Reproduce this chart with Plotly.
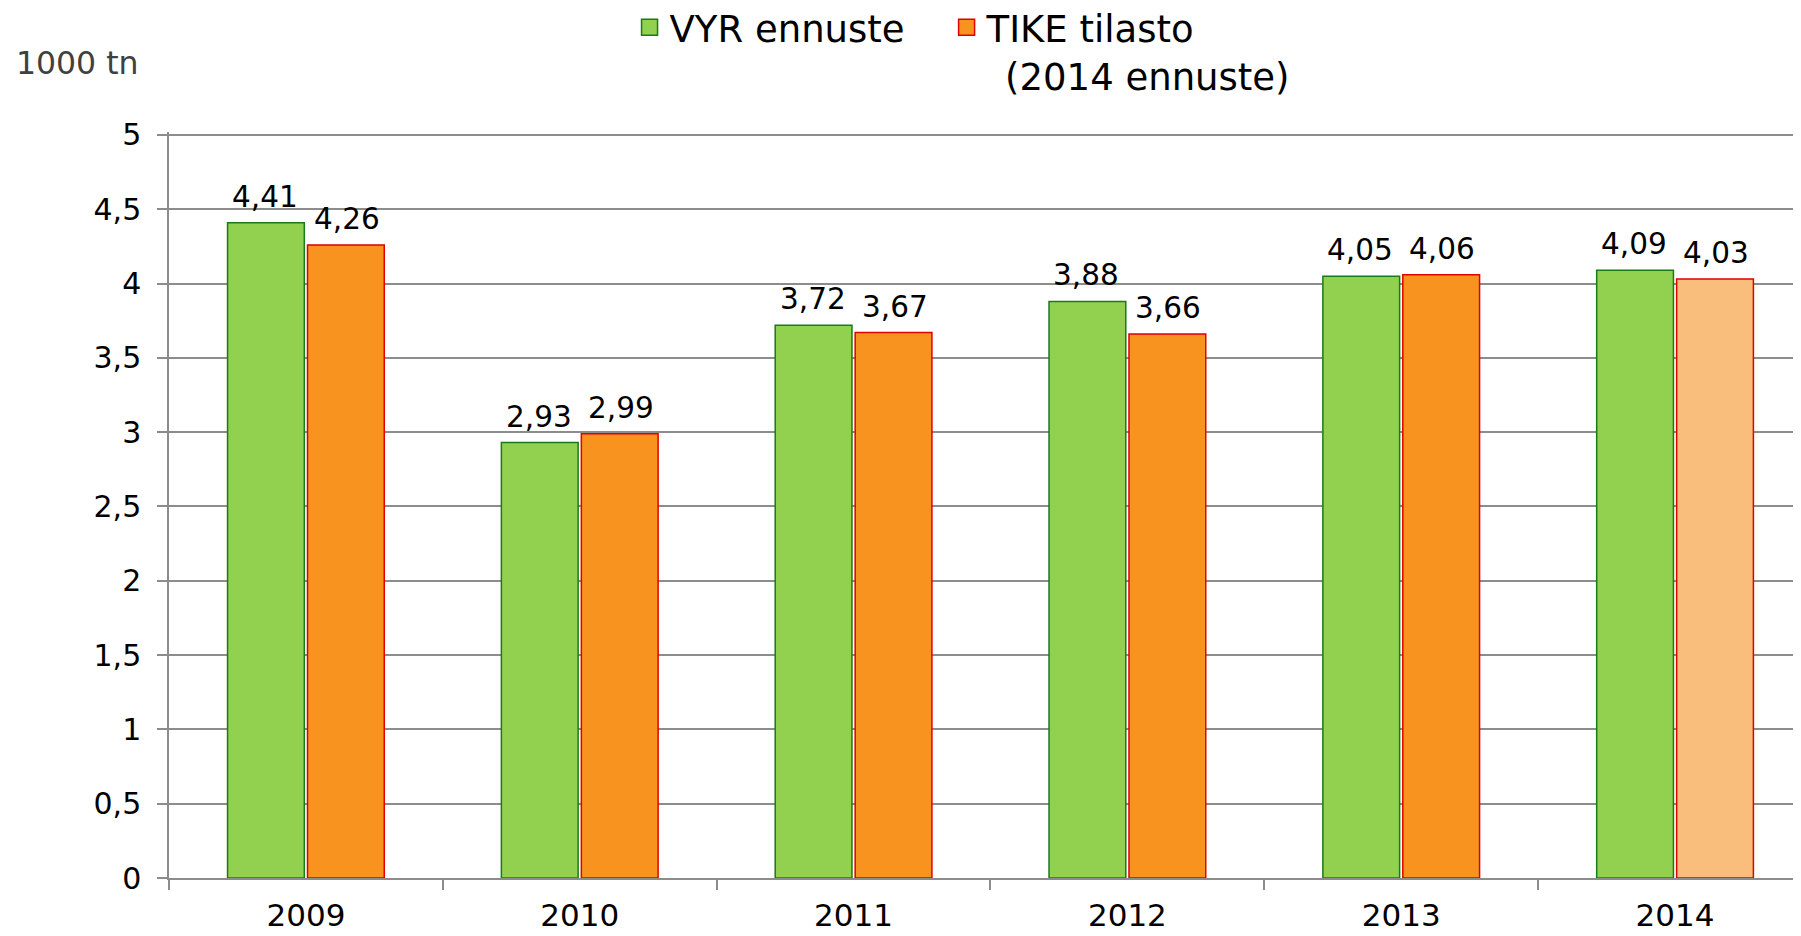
import plotly.graph_objects as go

years = ["2009", "2010", "2011", "2012", "2013", "2014"]
vyr = [4.41, 2.93, 3.72, 3.88, 4.05, 4.09]
tike = [4.26, 2.99, 3.67, 3.66, 4.06, 4.03]
y_ticks = [0, 0.5, 1, 1.5, 2, 2.5, 3, 3.5, 4, 4.5, 5]
y_ticklabels = ["0", "0,5", "1", "1,5", "2", "2,5", "3", "3,5", "4", "4,5", "5"]
series_names = ["VYR ennuste", "TIKE tilasto<br>\u2002(2014 ennuste)"]

GREEN = "#92D050"
GREEN_LINE = "#1A7A1A"
ORANGE = "#F7931E"
ORANGE_LIGHT = "#F9BE7B"
RED_LINE = "#E00000"
GRID = "#8C8C8C"
FONT = "DejaVu Sans"
LABEL_SIZE = 29.5

def fmt(v):
    return f"{v:.2f}".replace(".", ",")

tike_colors = [ORANGE] * (len(years) - 1) + [ORANGE_LIGHT]

fig = go.Figure()
fig.add_trace(go.Bar(
    x=years, y=vyr, name=series_names[0], showlegend=False,
    marker=dict(color=GREEN, line=dict(color=GREEN_LINE, width=1.5)),
))
fig.add_trace(go.Bar(
    x=years, y=tike, name=series_names[1], showlegend=False,
    marker=dict(color=tike_colors, line=dict(color=RED_LINE, width=1.5)),
))
# legend entries with larger square swatches
fig.add_trace(go.Scatter(
    x=[None], y=[None], mode="markers", name=series_names[0] + "\u2003",
    marker=dict(symbol="square", size=16, color=GREEN, line=dict(color=GREEN_LINE, width=1.5)),
))
fig.add_trace(go.Scatter(
    x=[None], y=[None], mode="markers", name=series_names[1],
    marker=dict(symbol="square", size=16, color=ORANGE, line=dict(color=RED_LINE, width=1.5)),
))

annotations = []
for i, v in enumerate(vyr):
    annotations.append(dict(x=i, y=v, xref="x", yref="y", text=fmt(v), showarrow=False,
                            xshift=-41, yshift=7, yanchor="bottom",
                            font=dict(family=FONT, size=LABEL_SIZE, color="#000000")))
for i, v in enumerate(tike):
    annotations.append(dict(x=i, y=v, xref="x", yref="y", text=fmt(v), showarrow=False,
                            xshift=41, yshift=7, yanchor="bottom",
                            font=dict(family=FONT, size=LABEL_SIZE, color="#000000")))
annotations.append(dict(x=0, y=1, xref="paper", yref="paper", xanchor="left", yanchor="middle",
                        xshift=-155, yshift=69, text="1000 tn", showarrow=False,
                        font=dict(family=FONT, size=31.5, color="#404040")))

fig.update_layout(
    width=1793, height=928,
    margin=dict(l=161, r=0, t=124, b=58, autoexpand=False),
    paper_bgcolor="white", plot_bgcolor="white",
    font=dict(family=FONT, size=30, color="#000000"),
    barmode="group", bargap=0.416, bargroupgap=0.04,
    legend=dict(orientation="h", x=0.2822, y=1.1815, xanchor="left", yanchor="top",
                valign="top", font=dict(family=FONT, size=37, color="#000000"),
                bgcolor="rgba(0,0,0,0)", traceorder="normal"),
    xaxis=dict(type="category", range=[-0.5, 5.46], tickson="boundaries",
               ticks="outside", ticklen=10, tickwidth=1.5, tickcolor=GRID,
               showline=True, linecolor=GRID, linewidth=1.5, showgrid=False,
               automargin=False, ticklabelstandoff=9,
               tickfont=dict(family=FONT, size=31, color="#000000")),
    yaxis=dict(range=[0, 5.02], tickvals=y_ticks, ticktext=y_ticklabels,
               ticks="outside", ticklen=10, tickwidth=1.5, tickcolor=GRID,
               showline=True, linecolor=GRID, linewidth=1.5,
               showgrid=True, gridcolor=GRID, gridwidth=1.5, zeroline=False,
               ticklabelstandoff=10, automargin=False,
               tickfont=dict(family=FONT, size=30, color="#000000")),
    annotations=annotations,
)

fig.write_html("out.html")
